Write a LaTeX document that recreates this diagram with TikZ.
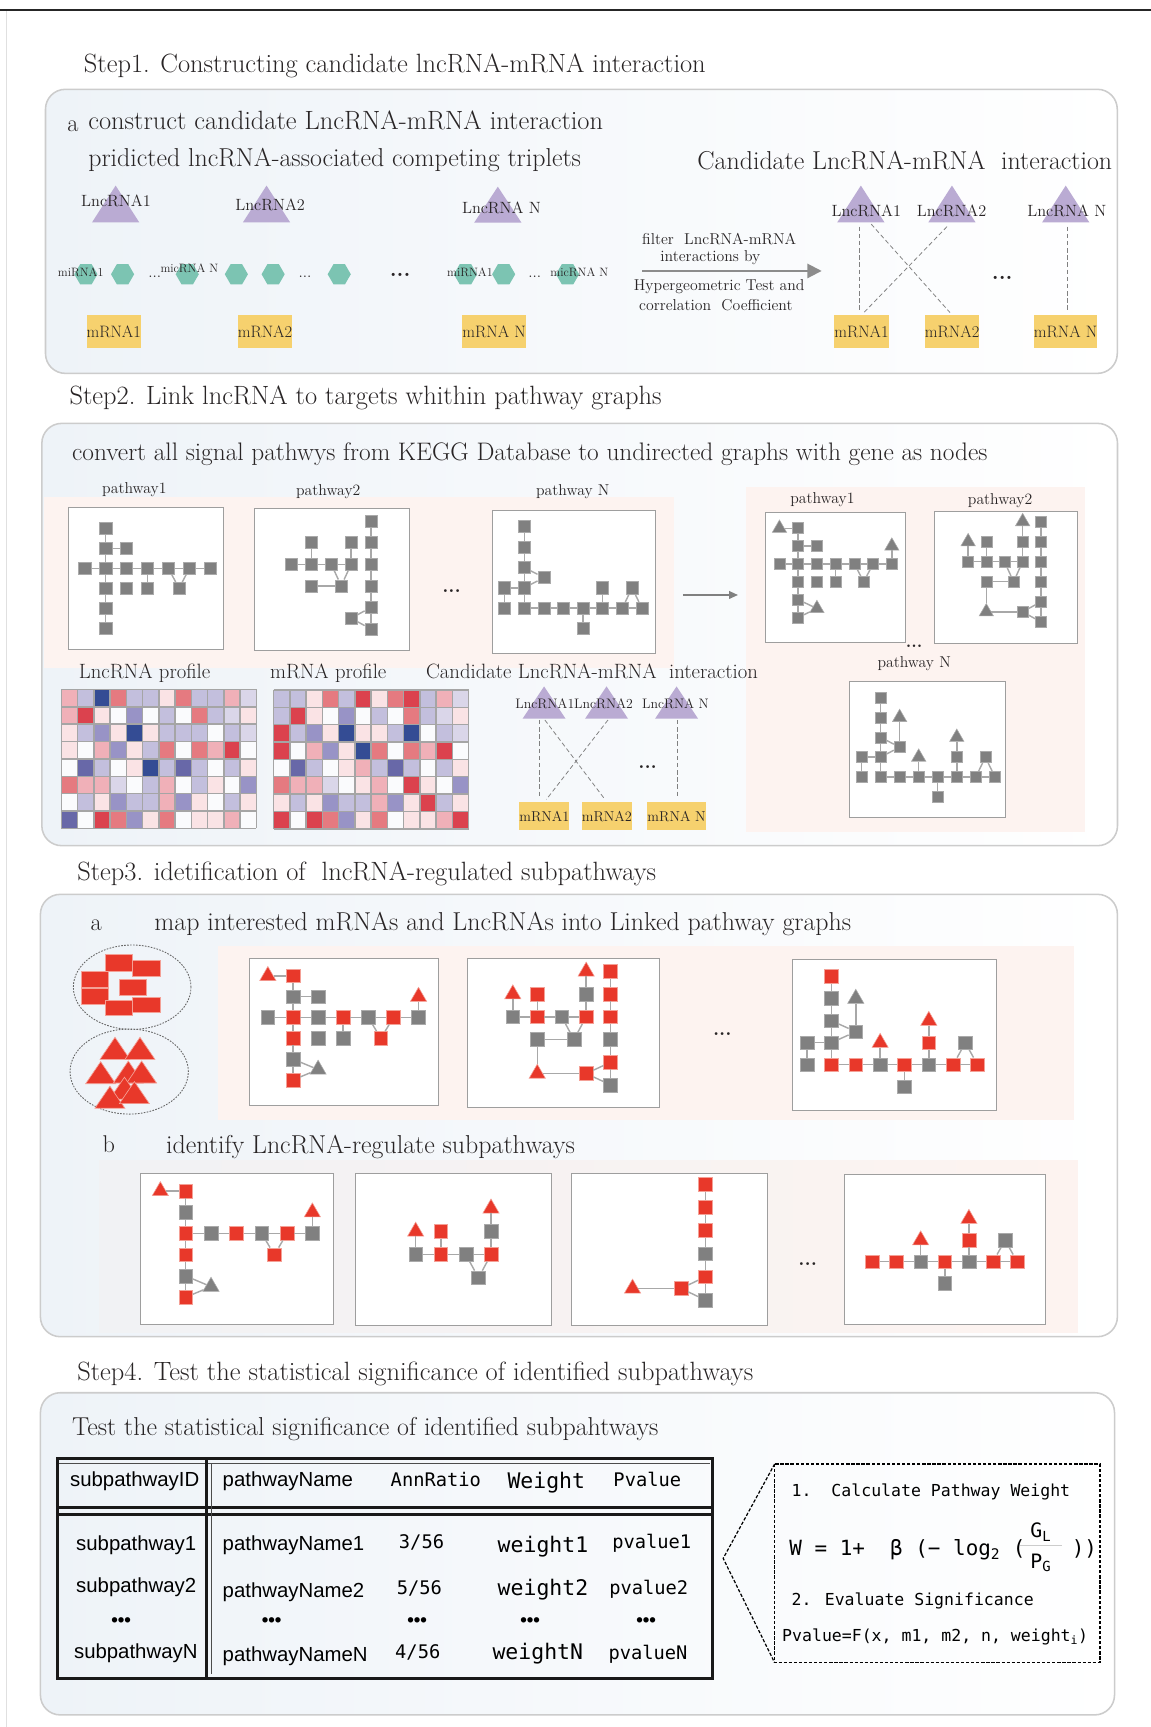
\documentclass[tikz,border=0pt]{standalone}
\usepackage{fontspec}
\newfontfamily\tsans{Liberation Sans}
\newfontfamily\tmono{DejaVu Sans Mono}
\usetikzlibrary{shapes.geometric,arrows.meta}
\newcommand\fsz[1]{\fontsize{#1}{#1}\selectfont}
\definecolor{purp}{RGB}{186,171,211}
\definecolor{yel}{RGB}{246,209,110}
\definecolor{tealc}{RGB}{124,196,178}
\definecolor{sqg}{RGB}{128,128,128}
\definecolor{sqgb}{RGB}{170,170,170}
\definecolor{redc}{RGB}{232,56,42}
\definecolor{redb}{RGB}{244,160,150}
\definecolor{edgec}{RGB}{168,168,168}
\definecolor{boxl}{RGB}{238,243,248}
\definecolor{boxline}{RGB}{204,204,204}
\definecolor{pinkbg}{RGB}{253,243,240}
\definecolor{graybg}{RGB}{241,242,244}
\definecolor{txtc}{RGB}{40,36,37}
\definecolor{hmW}{RGB}{250,251,253}
\definecolor{hmPa}{RGB}{250,227,229}
\definecolor{hmPb}{RGB}{240,176,184}
\definecolor{hmPc}{RGB}{229,122,128}
\definecolor{hmPd}{RGB}{219,66,78}
\definecolor{hmBa}{RGB}{218,214,233}
\definecolor{hmBb}{RGB}{195,191,221}
\definecolor{hmBc}{RGB}{152,147,198}
\definecolor{hmBd}{RGB}{104,104,168}
\definecolor{hmBe}{RGB}{52,76,148}
\definecolor{hmline}{RGB}{165,165,165}

\newcommand\lnctri[4]{\fill[purp] ({#1-#4},#3) -- (#1,#2) -- ({#1+#4},#3) -- cycle;}
\newcommand\redtri[2]{\filldraw[fill=redc, draw=redb, line width=0.6pt] ({#1-13.6},{#2+20}) -- (#1,#2) -- ({#1+13.6},{#2+20}) -- cycle;}
\newcommand\hmap[3]{%
  \foreach \rw [count=\j from 0] in {#3} {
    \foreach \cc [count=\i from 0] in \rw {
      \fill[fill=\cc] ({#1+\i*14.75},{#2+\j*15.76}) rectangle ++(14.75,15.76);
    }
  }
  \foreach \i in {0,...,12} {\draw[hmline, line width=1.3pt] ({#1+\i*14.75},#2) -- ++(0,126.1);}
  \foreach \j in {0,...,8} {\draw[hmline, line width=1.3pt] (#1,{#2+\j*15.76}) -- ++(177,0);}
}

\newcommand\PwOne{%
 \node[gsq,colA/.try] (A) at (1,0) {};
 \node[gsq,colB/.try] (B) at (1,1) {};
 \node[gsq,colC/.try] (C) at (2,1) {};
 \node[gsq,colD/.try] (D) at (0,2) {};
 \node[gsq,colE/.try] (E) at (1,2) {};
 \node[gsq,colF/.try] (F) at (2,2) {};
 \node[gsq,colG/.try] (G) at (3,2) {};
 \node[gsq,colH/.try] (H) at (4,2) {};
 \node[gsq,colI/.try] (I) at (5,2) {};
 \node[gsq,colJ/.try] (J) at (6,2) {};
 \node[gsq,colK/.try] (K) at (1,3) {};
 \node[gsq,colL/.try] (L) at (2,3) {};
 \node[gsq,colM/.try] (M) at (3,3) {};
 \node[gsq,colN/.try] (N) at (4.5,3) {};
 \node[gsq,colO/.try] (O) at (1,4) {};
 \node[gsq,colP/.try] (P) at (1,5) {};
 \draw[ge] (A)--(B)--(E)--(K)--(O)--(P);
 \draw[ge] (B)--(C);
 \draw[ge] (D)--(E)--(F)--(G)--(H)--(I)--(J);
 \draw[ge] (G)--(M);
 \draw[ge] (H)--(N)--(I);
}
\newcommand\PwOneTri{%
 \node[gtr,colTa/.try] (Ta) at (0,0) {};
 \node[gtr,colTb/.try] (Tb) at (6,1) {};
 \node[gtr,colTc/.try] (Tc) at (2,4.5) {};
 \draw[ge] (Ta)--(A); \draw[ge] (Tb)--(J); \draw[ge] (O)--(Tc)--(P);
}
\newcommand\PwTwo{%
 \node[gsq,cola/.try] (a) at (0,2) {};
 \node[gsq,colb/.try] (b) at (1,2) {};
 \node[gsq,colc/.try] (c) at (2,2) {};
 \node[gsq,cold/.try] (d) at (3,2) {};
 \node[gsq,colbb/.try] (bb) at (1,1) {};
 \node[gsq,coldd/.try] (dd) at (3,1) {};
 \node[gsq,cole/.try] (e) at (1,3) {};
 \node[gsq,colf/.try] (f) at (2.5,3) {};
 \node[gsq,colg/.try] (g) at (3,4.5) {};
 \node[gsq,colrz/.try] (r0) at (4,0) {};
 \node[gsq,colra/.try] (r1) at (4,1) {};
 \node[gsq,colrb/.try] (r2) at (4,2) {};
 \node[gsq,colrc/.try] (r3) at (4,3) {};
 \node[gsq,colrd/.try] (r4) at (4,4) {};
 \node[gsq,colre/.try] (r5) at (4,5) {};
 \draw[ge] (a)--(b)--(c)--(d);
 \draw[ge] (bb)--(b); \draw[ge] (dd)--(d);
 \draw[ge] (e)--(f); \draw[ge] (c)--(f)--(d);
 \draw[ge] (r0)--(r1)--(r2)--(r3)--(r4)--(r5);
 \draw[ge] (r4)--(g)--(r5);
}
\newcommand\PwTwoTri{%
 \node[gtr,colta/.try] (ta) at (0,1) {};
 \node[gtr,coltb/.try] (tb) at (3,0) {};
 \node[gtr,coltc/.try] (tc) at (1,4.5) {};
 \draw[ge] (ta)--(a); \draw[ge] (tb)--(dd); \draw[ge] (e)--(tc)--(g);
}
\newcommand\PwN{%
 \node[gsq,colsz/.try] (s0) at (1,0) {};
 \node[gsq,colsa/.try] (s1) at (1,1) {};
 \node[gsq,colsb/.try] (s2) at (1,2) {};
 \node[gsq,colsc/.try] (s3) at (1,3) {};
 \node[gsq,colsd/.try] (s4) at (1,4) {};
 \node[gsq,colq/.try] (q) at (2,2.5) {};
 \node[gsq,colu/.try] (u) at (0,3) {};
 \node[gsq,colv/.try] (v) at (0,4) {};
 \node[gsq,colwb/.try] (w2) at (2,4) {};
 \node[gsq,colwc/.try] (w3) at (3,4) {};
 \node[gsq,colwd/.try] (w4) at (4,4) {};
 \node[gsq,colwe/.try] (w5) at (5,4) {};
 \node[gsq,colwf/.try] (w6) at (6,4) {};
 \node[gsq,colwg/.try] (w7) at (7,4) {};
 \node[gsq,colz/.try] (z) at (4,5) {};
 \node[gsq,coly/.try] (y5) at (5,3) {};
 \node[gsq,colvv/.try] (vv) at (6.5,3) {};
 \draw[ge] (s0)--(s1)--(s2)--(s3)--(s4)--(w2)--(w3)--(w4)--(w5)--(w6)--(w7);
 \draw[ge] (s2)--(q)--(s3); \draw[ge] (u)--(s3); \draw[ge] (u)--(v);
 \draw[ge] (w4)--(z); \draw[ge] (w5)--(y5); \draw[ge] (w6)--(vv)--(w7);
}
\newcommand\PwNTri{%
 \node[gtr,coltq/.try] (tq) at (2,1) {};
 \node[gtr,coltt/.try] (tt) at (3,3) {};
 \node[gtr,coltf/.try] (tf) at (5,2) {};
 \draw[ge] (tq)--(q); \draw[ge] (tt)--(w3); \draw[ge] (tf)--(y5);
}

\begin{document}
\begin{tikzpicture}[x=1pt,y=-1pt,
 gsq/.style={rectangle, fill=sqg, draw=sqgb, line width=0.5pt, minimum size=11pt, inner sep=0pt},
 gtr/.style={regular polygon, regular polygon sides=3, fill=sqg, draw=sqgb, line width=0.5pt, minimum size=16pt, inner sep=0pt},
 rd/.style={fill=redc, draw=redb},
 ge/.style={draw=edgec, line width=1.3pt},
 gbox/.style={fill=white, draw=black!38, line width=0.9pt},
 stepbox/.style={rounded corners=18pt, draw=boxline, line width=1.4pt, left color=boxl, right color=white},
 ttl/.style={font=\fsz{24}, inner sep=0pt, anchor=base west, text=txtc},
 subt/.style={font=\fsz{23.5}, inner sep=0pt, anchor=base west, text=txtc},
 lbl/.style={font=\fsz{14.3}, inner sep=0pt, text=txtc},
 lblt/.style={font=\fsz{14.8}, inner sep=0pt, text=txtc},
 lblm/.style={font=\fsz{11}, inner sep=0pt, text=txtc},
 mbox/.style={rectangle, fill=yel, minimum width=42.7pt, minimum height=30pt, inner sep=0pt, font=\fsz{15}, text=txtc},
 hexn/.style={regular polygon, regular polygon sides=6, fill=tealc, minimum size=21pt, inner sep=0pt},
 dsh/.style={draw=black!50, dash pattern=on 4pt off 2.5pt, line width=0.7pt, shorten >=3pt},
 dotst/.style={font=\bfseries\fsz{20}, inner sep=0pt, text=txtc},
 tsn/.style={font=\tsans\fsz{18.5}, inner sep=0pt, anchor=base, text=black},
 tmn/.style={font=\tmono\fsz{17}, inner sep=0pt, anchor=base, text=black},
 tmw/.style={font=\tmono\fsz{19.5}, inner sep=0pt, anchor=base, text=black},
 fmn/.style={font=\tmono\fsz{15}, inner sep=0pt, anchor=base west, text=black},
]
\useasboundingbox (0,0) rectangle (1045,1568);
\fill[white] (0,0) rectangle (1045,1568);
\draw[black!85, line width=1.8pt] (0,9) -- (1045,9);
\draw[black!12, line width=1pt] (5.5,10) -- (5.5,1568);

%%%%%%%%%%%%%%%% STEP 1
\node[ttl] (s1t) at (76,65.5) {Step1. Constructing candidate lncRNA-mRNA interaction};
\draw[stepbox] (41.3,81.1) rectangle (1014.4,339);
\node[ttl, font=\fsz{22}] (s1a) at (61,119) {a};
\node[ttl] (s1c) at (80,117.5) {construct candidate LncRNA-mRNA interaction};
\node[subt] (s1p) at (80,151.5) {pridicted lncRNA-associated competing triplets};
\node[subt] (s1r) at (633,153.5) {Candidate LncRNA-mRNA\ \ interaction};

\lnctri{105}{168.5}{202}{21.5}
\lnctri{242}{168.5}{202}{21.5}
\lnctri{452}{169.5}{202.2}{21.5}
\node[lblt] (lt1) at (105.3,182.5) {LncRNA1};
\node[lblt] (lt2) at (245.3,186) {LncRNA2};
\node[lblt] (lt3) at (455.3,188.3) {LncRNA N};

\foreach \x [count=\k] in {78,111.3,170,214.6,248,308,422.6,457.3,515.3} {\node[hexn] (hx\k) at (\x,249) {};}
\node[lblm] (mi1) at (73.3,247.6) {miRNA1};
\node[lblm] (mi2) at (172,243.6) {micRNA N};
\node[lblm] (mi3) at (426.7,247.6) {miRNA1};
\node[lblm] (mi4) at (526,247.6) {micRNA N};
\node[lbl] (hd1) at (140.5,251) {...};
\node[lbl] (hd2) at (277,251) {...};
\node[dotst] (hd3) at (363.3,250) {...};
\node[lbl] (hd4) at (485.5,251) {...};

\node[mbox] (m1) at (103.3,301.2) {mRNA1};
\node[mbox] (m2) at (240.6,301.2) {mRNA2};
\node[mbox] (m3) at (448.6,301.2) {mRNA N};

\coordinate (arA) at (583,246);
\coordinate (arB) at (746,246);
\draw[black!45, line width=1.8pt, -{Triangle[length=13pt,width=13pt]}] (arA) -- (arB);
\node[lbl] (ft1) at (653,217) {filter\ \ LncRNA-mRNA};
\node[lbl] (ft2) at (645,234) {interactions by};
\node[lbl] (ft3) at (653,260) {Hypergeometric Test and};
\node[lbl] (ft4) at (650,277) {correlation\ \ Coefficient};

\lnctri{781.6}{168.5}{202}{21.5}
\lnctri{864.3}{168.5}{202}{21.5}
\lnctri{967.6}{168.5}{202}{21.5}
\node[lblt] (rt1) at (786.6,191.3) {LncRNA1};
\node[lblt] (rt2) at (864,191.3) {LncRNA2};
\node[lblt] (rt3) at (968.6,191.3) {LncRNA N};
\node[mbox] (rm1) at (782.2,301.2) {mRNA1};
\node[mbox] (rm2) at (864.5,301.2) {mRNA2};
\node[mbox] (rm3) at (967.5,301.2) {mRNA N};
\coordinate (rc1) at (780,205.8);
\coordinate (rc1b) at (791,203.5);
\coordinate (rc2) at (859.8,205.8);
\coordinate (rc3) at (969.5,205.8);
\draw[dsh] (rc1) -- (rc1 |- rm1.north);
\draw[dsh] (rc1b) -- (rm2.north);
\draw[dsh] (rc2) -- (rm1.north);
\draw[dsh] (rc3) -- (rc3 |- rm3.north);
\node[dotst] (rdots) at (910,252) {...};

%%%%%%%%%%%%%%%% STEP 2
\node[ttl] (s2t) at (63,367.5) {Step2. Link lncRNA to targets whithin pathway graphs};
\draw[stepbox] (38,384.4) rectangle (1014.6,767.8);
\node[subt, font=\fsz{23}] (s2c) at (65.3,418) {convert all signal pathwys from KEGG Database to undirected graphs with gene as nodes};
\fill[pinkbg] (40,451) rectangle (612,606.8);
\fill[pinkbg] (677.3,442.5) rectangle (985.1,755.1);

\node[lbl, anchor=base] (pl1) at (122,448.5) {pathway1};
\node[lbl, anchor=base] (pl2) at (298,450) {pathway2};
\node[lbl, anchor=base] (pl3) at (520,450) {pathway N};
\draw[gbox] (62,460.6) rectangle (203.3,589.6);
\draw[gbox] (231.3,461.6) rectangle (372,590.8);
\draw[gbox] (446.7,463.7) rectangle (595.3,592.9);
\begin{scope}[shift={(77,479.6)}, x=19pt, y=-18.2pt, name prefix=L1-]
\PwOne
\end{scope}
\begin{scope}[shift={(264.8,473.1)}, x=18pt, y=-19.6pt, name prefix=L2-]
\PwTwo
\end{scope}
\begin{scope}[shift={(458.2,478.2)}, x=17.8pt, y=-18.5pt, name prefix=LN-]
\PwN
\end{scope}
\node[dotst, font=\bfseries\fsz{18}] (pd1) at (410,536.3) {...};
\coordinate (ar2a) at (620,540.2);
\coordinate (ar2b) at (670,540.2);
\draw[black!50, line width=1.2pt, -{Triangle[length=8pt,width=7pt]}] (ar2a) -- (ar2b);

\node[lbl, anchor=base] (rl1) at (746.7,457.5) {pathway1};
\node[lbl, anchor=base] (rl2) at (908,458.5) {pathway2};
\node[dotst, font=\bfseries\fsz{16}] (rld) at (830,587) {...};
\node[lbl, anchor=base] (rl3) at (830,606) {pathway N};
\draw[gbox] (694.7,465.1) rectangle (822,583.6);
\draw[gbox] (848.7,464.5) rectangle (978.7,583.9);
\draw[gbox] (771.3,618.3) rectangle (913.3,742);
\begin{scope}[shift={(707.7,479.6)}, x=17pt, y=-16.2pt, name prefix=R1-, gsq/.append style={minimum size=10pt}, gtr/.append style={minimum size=15pt}]
\PwOne \PwOneTri
\end{scope}
\begin{scope}[shift={(879,473.6)}, x=16.5pt, y=-18.2pt, name prefix=R2-, gsq/.append style={minimum size=10pt}, gtr/.append style={minimum size=15pt}]
\PwTwo \PwTwoTri
\end{scope}
\begin{scope}[shift={(782.2,633.4)}, x=17.3pt, y=-18pt, name prefix=RN-, gsq/.append style={minimum size=10pt}, gtr/.append style={minimum size=15pt}]
\PwN \PwNTri
\end{scope}

\node[lbl, font=\fsz{18.8}, anchor=base] (hl1) at (131.3,616) {LncRNA profile};
\node[lbl, font=\fsz{18.8}, anchor=base] (hl2) at (298,616) {mRNA profile};
\node[lbl, font=\fsz{18.8}, anchor=base west] (hl3) at (386.7,616) {Candidate LncRNA-mRNA\ \ interaction};

\hmap{55.8}{626}{%
{hmPb,hmBb,hmBe,hmPc,hmBb,hmBb,hmPa,hmPc,hmBb,hmBb,hmPb,hmBa},
{hmPb,hmPd,hmPa,hmW,hmBc,hmW,hmBb,hmW,hmPc,hmBb,hmBa,hmPa},
{hmPa,hmBb,hmBc,hmPa,hmBe,hmPa,hmBb,hmBb,hmBb,hmW,hmBb,hmBa},
{hmPa,hmW,hmPb,hmBc,hmPa,hmBb,hmPc,hmW,hmPc,hmPb,hmPd,hmW},
{hmW,hmBd,hmBb,hmW,hmPa,hmBe,hmBb,hmBd,hmBb,hmW,hmBb,hmPa},
{hmPc,hmPb,hmPb,hmBa,hmW,hmBb,hmPb,hmW,hmBb,hmPa,hmW,hmBc},
{hmW,hmBb,hmPa,hmBc,hmBb,hmBb,hmPb,hmBc,hmPa,hmW,hmBb,hmPa},
{hmBd,hmW,hmPd,hmPc,hmBc,hmPa,hmPc,hmW,hmPa,hmPa,hmPb,hmW}}
\hmap{248.4}{626.4}{%
{hmBb,hmBb,hmPa,hmPc,hmBb,hmPd,hmPa,hmPc,hmPd,hmBb,hmPb,hmBa},
{hmBb,hmPd,hmPa,hmW,hmBc,hmW,hmBb,hmW,hmPc,hmBb,hmBa,hmPa},
{hmPd,hmBb,hmBc,hmPa,hmBe,hmPa,hmPa,hmBb,hmBe,hmW,hmBb,hmBa},
{hmPd,hmW,hmPb,hmBc,hmPa,hmBe,hmPc,hmW,hmPc,hmPb,hmPd,hmW},
{hmW,hmBd,hmBb,hmW,hmPa,hmPb,hmBb,hmBd,hmBb,hmW,hmBb,hmPa},
{hmPc,hmPb,hmPb,hmBa,hmW,hmPa,hmPb,hmW,hmPd,hmPa,hmW,hmBc},
{hmPa,hmBb,hmPa,hmBc,hmBb,hmBb,hmPb,hmBc,hmPa,hmPd,hmBb,hmPa},
{hmPd,hmW,hmPd,hmPc,hmBc,hmPa,hmPc,hmW,hmPa,hmPa,hmPb,hmPd}}

\lnctri{494}{623.2}{652.5}{19.5}
\lnctri{550.7}{623.2}{652.5}{19.5}
\lnctri{614.3}{623.2}{652.5}{19.5}
\node[lblt, font=\fsz{12.5}] (sl1) at (494.7,638.6) {LncRNA1};
\node[lblt, font=\fsz{12.5}] (sl2) at (548,638.6) {LncRNA2};
\node[lblt, font=\fsz{12.5}] (sl3) at (613.3,638.6) {LncRNA N};
\node[mbox, minimum width=38pt, minimum height=25.6pt, font=\fsz{13}] (sm1) at (494.3,741.1) {mRNA1};
\node[mbox, minimum width=38pt, minimum height=25.6pt, font=\fsz{13}] (sm2) at (551,741.1) {mRNA2};
\node[mbox, minimum width=38pt, minimum height=25.6pt, font=\fsz{13}] (sm3) at (614.3,741.1) {mRNA N};
\coordinate (sc1) at (490,653.7);
\coordinate (sc1b) at (494.7,653.7);
\coordinate (sc2) at (552,653.7);
\coordinate (sc3) at (614.7,653.7);
\draw[dsh] (sc1) -- (sc1 |- sm1.north);
\draw[dsh] (sc1b) -- (sm2.north);
\draw[dsh] (sc2) -- (sm1.north);
\draw[dsh] (sc3) -- (sc3 |- sm3.north);
\node[dotst, font=\bfseries\fsz{18}] (sdots) at (588,696) {...};

%%%%%%%%%%%%%%%% STEP 3
\node[ttl] (s3t) at (70,799.5) {Step3. idetification of\ \ lncRNA-regulated subpathways};
\draw[stepbox] (36.7,812) rectangle (1014.5,1213.6);
\node[ttl, font=\fsz{22}] (s3a) at (82,845) {a};
\node[subt] (s3m) at (140,844.8) {map interested mRNAs and LncRNAs into Linked pathway graphs};
\fill[pinkbg] (198,859) rectangle (975.2,1017);

\draw[black!60, dash pattern=on 1.5pt off 1.2pt, line width=0.8pt] (120,896.3) ellipse [x radius=53.4pt, y radius=38.3pt];
\draw[black!60, dash pattern=on 1.5pt off 1.2pt, line width=0.8pt] (117.3,972.9) ellipse [x radius=53.7pt, y radius=38.6pt];
\filldraw[fill=redc, draw=redb, line width=0.6pt] (120.4,872.2) rectangle (145.2,886.2);
\filldraw[fill=redc, draw=redb, line width=0.6pt] (95.9,866.2) rectangle (120.4,881.6);
\filldraw[fill=redc, draw=redb, line width=0.6pt] (74.2,881.5) rectangle (98.4,896);
\filldraw[fill=redc, draw=redb, line width=0.6pt] (74.2,897.4) rectangle (98.4,911.6);
\filldraw[fill=redc, draw=redb, line width=0.6pt] (108.3,889.1) rectangle (133.2,903.4);
\filldraw[fill=redc, draw=redb, line width=0.6pt] (120.4,905.6) rectangle (145.2,919.5);
\filldraw[fill=redc, draw=redb, line width=0.6pt] (95.9,908) rectangle (120.4,921.7);
\redtri{104.4}{941.8}
\redtri{127.1}{941.8}
\redtri{91.4}{963.9}
\redtri{116.5}{963.3}
\redtri{128.6}{963.3}
\redtri{113}{978}
\redtri{99.8}{986.2}
\redtri{122}{982}

\draw[gbox] (226.7,870) rectangle (398.3,1004);
\draw[gbox] (424.7,870) rectangle (598.6,1005.7);
\draw[gbox] (719.6,871.6) rectangle (904.5,1007.8);
\begin{scope}[shift={(243.2,886)}, x=22.8pt, y=-18.9pt, name prefix=A1-, gsq/.append style={minimum size=12.5pt}, gtr/.append style={minimum size=17pt},
  colA/.style=rd, colE/.style=rd, colG/.style=rd, colI/.style=rd, colK/.style=rd, colN/.style=rd, colP/.style=rd, colTa/.style=rd, colTb/.style=rd]
\PwOne \PwOneTri
\end{scope}
\begin{scope}[shift={(465.6,882)}, x=22.2pt, y=-20.6pt, name prefix=A2-, gsq/.append style={minimum size=12.5pt}, gtr/.append style={minimum size=17pt},
  colb/.style=rd, cold/.style=rd, colbb/.style=rd, colg/.style=rd, colrz/.style=rd, colra/.style=rd, colrb/.style=rd, colrd/.style=rd, colta/.style=rd, coltb/.style=rd, coltc/.style=rd]
\PwTwo \PwTwoTri
\end{scope}
\begin{scope}[shift={(732.8,886.7)}, x=22.1pt, y=-20pt, name prefix=A3-, gsq/.append style={minimum size=12.5pt}, gtr/.append style={minimum size=17pt},
  colsz/.style=rd, colsd/.style=rd, colwb/.style=rd, colwd/.style=rd, colwf/.style=rd, colwg/.style=rd, coly/.style=rd, coltt/.style=rd, coltf/.style=rd]
\PwN \PwNTri
\end{scope}
\node[dotst, font=\bfseries\fsz{18}] (adots) at (655.8,939) {...};

\node[ttl, font=\fsz{22}] (s3b) at (93,1046.5) {b};
\node[subt] (s3i) at (150.7,1047) {identify LncRNA-regulate subpathways};
\shade[left color=graybg, right color=pinkbg] (90,1053.2) rectangle (978.6,1210);
\draw[gbox] (127.6,1065.3) rectangle (302.4,1202.4);
\draw[gbox] (323.1,1065.3) rectangle (500.6,1203.6);
\draw[gbox] (519.3,1065.3) rectangle (697.2,1203.6);
\draw[gbox] (766.5,1066.2) rectangle (949.2,1202.4);
\begin{scope}[shift={(145.6,1081.3)}, x=23pt, y=-19.3pt, name prefix=B1-, gsq/.append style={minimum size=12.5pt}, gtr/.append style={minimum size=17pt}]
 \node[gsq,rd] (A) at (1,0) {};
 \node[gsq] (B) at (1,1) {};
 \node[gsq,rd] (E) at (1,2) {};
 \node[gsq] (F) at (2,2) {};
 \node[gsq,rd] (G) at (3,2) {};
 \node[gsq] (H) at (4,2) {};
 \node[gsq,rd] (I) at (5,2) {};
 \node[gsq] (J) at (6,2) {};
 \node[gsq,rd] (K) at (1,3) {};
 \node[gsq,rd] (N) at (4.5,3) {};
 \node[gsq] (O) at (1,4) {};
 \node[gsq,rd] (P) at (1,5) {};
 \node[gtr,rd] (Ta) at (0,0) {};
 \node[gtr,rd] (Tb) at (6,1) {};
 \node[gtr] (Tc) at (2,4.5) {};
 \draw[ge] (A)--(B)--(E)--(K)--(O)--(P);
 \draw[ge] (E)--(F)--(G)--(H)--(I)--(J);
 \draw[ge] (H)--(N)--(I);
 \draw[ge] (Ta)--(A); \draw[ge] (Tb)--(J); \draw[ge] (O)--(Tc)--(P);
\end{scope}
\begin{scope}[shift={(377.4,1097.1)}, x=22.8pt, y=-21pt, name prefix=B2-, gsq/.append style={minimum size=12.5pt}, gtr/.append style={minimum size=17pt}]
 \node[gsq] (a) at (0,2) {};
 \node[gsq,rd] (b) at (1,2) {};
 \node[gsq] (c) at (2,2) {};
 \node[gsq,rd] (d) at (3,2) {};
 \node[gsq,rd] (bb) at (1,1) {};
 \node[gsq] (dd) at (3,1) {};
 \node[gsq] (f) at (2.5,3) {};
 \node[gtr,rd] (ta) at (0,1) {};
 \node[gtr,rd] (tb) at (3,0) {};
 \draw[ge] (a)--(b)--(c)--(d);
 \draw[ge] (bb)--(b); \draw[ge] (dd)--(d);
 \draw[ge] (c)--(f)--(d);
 \draw[ge] (ta)--(a); \draw[ge] (tb)--(dd);
\end{scope}
\begin{scope}[shift={(552.3,1075.3)}, x=22pt, y=-21pt, name prefix=B3-, gsq/.append style={minimum size=12.5pt}, gtr/.append style={minimum size=17pt}]
 \node[gsq,rd] (r0) at (4,0) {};
 \node[gsq,rd] (r1) at (4,1) {};
 \node[gsq,rd] (r2) at (4,2) {};
 \node[gsq] (r3) at (4,3) {};
 \node[gsq,rd] (r4) at (4,4) {};
 \node[gsq] (r5) at (4,5) {};
 \node[gsq,rd] (g) at (3,4.5) {};
 \node[gtr,rd] (tc) at (1,4.5) {};
 \draw[ge] (r0)--(r1)--(r2)--(r3)--(r4)--(r5);
 \draw[ge] (r4)--(g)--(r5);
 \draw[ge] (tc)--(g);
\end{scope}
\begin{scope}[shift={(770.2,1067.5)}, x=21.9pt, y=-19.5pt, name prefix=B4-, gsq/.append style={minimum size=12.5pt}, gtr/.append style={minimum size=17pt}]
 \node[gsq,rd] (s4) at (1,4) {};
 \node[gsq,rd] (w2) at (2,4) {};
 \node[gsq] (w3) at (3,4) {};
 \node[gsq,rd] (w4) at (4,4) {};
 \node[gsq] (w5) at (5,4) {};
 \node[gsq,rd] (w6) at (6,4) {};
 \node[gsq,rd] (w7) at (7,4) {};
 \node[gsq] (z) at (4,5) {};
 \node[gsq,rd] (y5) at (5,3) {};
 \node[gsq] (vv) at (6.5,3) {};
 \node[gtr,rd] (tt) at (3,3) {};
 \node[gtr,rd] (tf) at (5,2) {};
 \draw[ge] (s4)--(w2)--(w3)--(w4)--(w5)--(w6)--(w7);
 \draw[ge] (w4)--(z); \draw[ge] (w5)--(y5)--(tf); \draw[ge] (tt)--(w3);
 \draw[ge] (w6)--(vv)--(w7);
\end{scope}
\node[dotst, font=\bfseries\fsz{18}] (bdots) at (733.4,1147.7) {...};

%%%%%%%%%%%%%%%% STEP 4
\node[ttl] (s4t) at (70,1253.5) {Step4. Test the statistical significance of identified subpathways};
\draw[stepbox] (36.7,1264.5) rectangle (1011.9,1557);
\node[subt] (s4s) at (65.3,1303) {Test the statistical significance of identified subpahtways};

\draw[black!90, line width=3pt] (52,1324) rectangle (647,1524);
\draw[black!70, line width=1pt] (54,1329) -- (645,1329);
\draw[black!90, line width=3pt] (52,1368.5) -- (647,1368.5);
\draw[black!90, line width=2pt] (52,1375) -- (647,1375);
\draw[black!90, line width=2.5pt] (187.5,1324) -- (187.5,1524);
\draw[black!70, line width=1pt] (192,1329) -- (192,1520);

\node[tsn] (h1) at (122.3,1350) {subpathwayID};
\node[tsn, anchor=base west] (h2) at (202,1350) {pathwayName};
\node[tmn] (h3) at (395.7,1350) {AnnRatio};
\node[tmw] (h4) at (496,1351) {Weight};
\node[tmn] (h5) at (587.7,1350) {Pvalue};

\node[tsn] (c11) at (123.7,1408) {subpathway1};
\node[tsn, anchor=base west] (c12) at (202,1408) {pathwayName1};
\node[tmn] (c13) at (382.7,1405.7) {3/56};
\node[tmw] (c14) at (493,1410) {weight1};
\node[tmn] (c15) at (591.7,1405.7) {pvalue1};

\node[tsn] (c21) at (123.7,1446) {subpathway2};
\node[tsn, anchor=base west] (c22) at (202,1450) {pathwayName2};
\node[tmn] (c23) at (380.7,1448) {5/56};
\node[tmw] (c24) at (493,1449) {weight2};
\node[tmn] (c25) at (589,1447.5) {pvalue2};

\foreach \x [count=\k] in {110,246.7,378.7,481.3,586.7} {\node[font=\tsans\bfseries\fsz{17}, inner sep=0pt] (cd\k) at (\x,1473) {•••};}

\node[tsn] (c41) at (123.3,1505.6) {subpathwayN};
\node[tsn, anchor=base west] (c42) at (202,1508.5) {pathwayNameN};
\node[tmn] (c43) at (379.3,1505.6) {4/56};
\node[tmw] (c44) at (488.3,1507) {weightN};
\node[tmn] (c45) at (588.3,1507) {pvalueN};

\coordinate (dbtl) at (703.3,1329.2);
\coordinate (dbbl) at (703.3,1509.6);
\coordinate (dbtip) at (656.6,1414.9);
\draw[black, dash pattern=on 3pt off 1.6pt, line width=1.4pt] (703.3,1329.2) rectangle (998.5,1509.6);
\draw[black, dash pattern=on 3pt off 1.6pt, line width=1.1pt] (dbtl) -- (dbtip) -- (dbbl);

\node[fmn] (f1) at (718.6,1358.5) {1.\ \ Calculate Pathway Weight};
\node[fmn, font=\tmono\fsz{19}] (f2) at (716.5,1412) {W = 1+\ \ β (− log\textsubscript{2} (};
\node[font=\tmono\fsz{18}, inner sep=0pt] (f3) at (945,1391) {G\textsubscript{L}};
\draw[black!20, line width=1.3pt] (926,1403.4) -- (964,1403.4);
\node[font=\tmono\fsz{18}, inner sep=0pt] (f4) at (945,1419) {P\textsubscript{G}};
\node[fmn, font=\tmono\fsz{19}] (f5) at (973,1412) {))};
\node[fmn] (f6) at (718.6,1458) {2. Evaluate Significance};
\node[fmn] (f7) at (710,1490) {Pvalue=F(x, m1, m2, n, weight\textsubscript{i})};

\end{tikzpicture}
\end{document}
